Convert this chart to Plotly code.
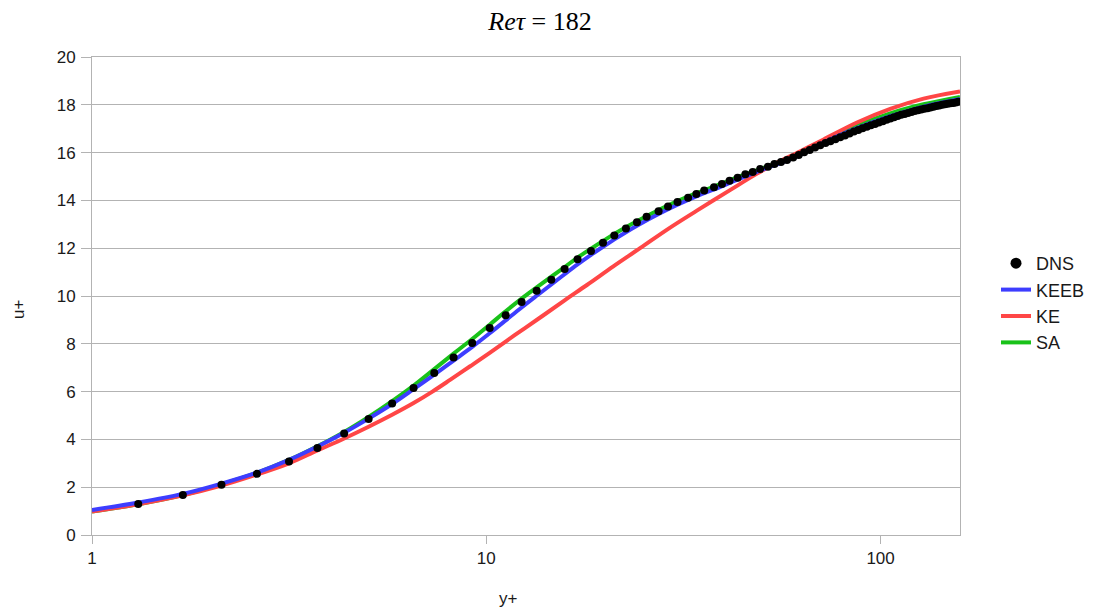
import plotly.graph_objects as go
import math

# ---------------- data ----------------
dns_yplus = [1.31, 1.70, 2.13, 2.62, 3.16, 3.73, 4.36, 5.03, 5.77, 6.54, 7.38, 8.26, 9.21,
             10.2, 11.2, 12.29, 13.42, 14.62, 15.80, 17.04, 18.43, 19.77, 21.12, 22.6, 24.1,
             25.5, 27.35, 28.9, 30.55, 32.5, 34.1, 35.7, 37.8, 39.6, 41.4, 43.4, 45.4, 47.4,
             49.5, 51.8, 53.8, 55.9, 57.9, 60.0, 62.0, 64.0, 66.1, 68.2, 70.3, 72.5, 74.6,
             76.8, 79.0, 81.2, 83.4, 85.6, 87.8, 90.0, 92.3, 94.5, 96.8, 99.0, 101.3, 103.6,
             105.9, 108.2, 110.5, 112.8, 115.1, 117.4, 119.8, 122.1, 124.4, 126.8, 129.1,
             131.5, 133.8, 136.2, 138.5, 140.9, 143.3, 145.6, 148.0, 150.4, 152.8, 155.1, 157.5]
dns_uplus = [1.30, 1.67, 2.10, 2.56, 3.08, 3.64, 4.25, 4.85, 5.50, 6.15, 6.78, 7.43, 8.03,
             8.66, 9.19, 9.75, 10.22, 10.68, 11.13, 11.54, 11.88, 12.23, 12.53, 12.82, 13.09,
             13.32, 13.55, 13.75, 13.93, 14.11, 14.27, 14.41, 14.55, 14.69, 14.82, 14.95, 15.09, 15.19,
             15.31, 15.41, 15.52, 15.61, 15.69, 15.79, 15.90, 16.01, 16.11, 16.21, 16.31, 16.40, 16.48,
             16.56, 16.64, 16.72, 16.80, 16.88, 16.95, 17.02, 17.08, 17.14, 17.20, 17.26, 17.31, 17.37,
             17.43, 17.48, 17.53, 17.58, 17.62, 17.66, 17.70, 17.74, 17.77, 17.80, 17.83,
             17.86, 17.89, 17.92, 17.95, 17.97, 18.00, 18.02, 18.04, 18.06, 18.08, 18.10, 18.13]

model_yplus = [1.0, 1.31, 1.70, 2.13, 2.62, 3.16, 3.73, 4.36, 5.03, 5.77, 6.54, 7.38, 8.26, 9.21,
               10.2, 11.2, 12.29, 13.42, 14.62, 15.8, 17.04, 18.43, 19.77, 21.12, 22.6, 24.1,
               27.35, 30.55, 34.1, 37.8, 43.4, 50.0, 55.9, 62.0, 71.7, 87.1, 105.8, 128.5, 159.0]
keeb_uplus = [1.05, 1.36, 1.72, 2.15, 2.61, 3.14, 3.70, 4.28, 4.87, 5.48, 6.10, 6.71, 7.30, 7.87,
              8.44, 8.98, 9.52, 10.01, 10.48, 10.91, 11.32, 11.72, 12.06, 12.37, 12.67, 12.94,
              13.43, 13.82, 14.17, 14.46, 14.87, 15.28, 15.57, 15.87, 16.42, 17.02, 17.52, 17.92, 18.24]
sa_uplus = [0.98, 1.29, 1.67, 2.12, 2.60, 3.14, 3.71, 4.31, 4.94, 5.60, 6.25, 6.94, 7.59, 8.20,
            8.80, 9.36, 9.89, 10.36, 10.81, 11.21, 11.61, 11.98, 12.30, 12.60, 12.88, 13.13,
            13.60, 13.97, 14.30, 14.58, 14.97, 15.34, 15.64, 15.93, 16.49, 17.13, 17.64, 18.02, 18.33]

ke_yplus = [1.0, 1.31, 1.70, 2.13, 2.52, 3.16, 3.72, 4.36, 5.03, 5.77, 6.54, 7.3, 8.11, 9.1,
            10.2, 11.8, 13.7, 15.8, 18.0, 21.0, 24.6, 29.0, 34.2, 41.6, 48.6, 54.6, 62.6, 71.7,
            87.1, 105.8, 128.5, 159.0]
ke_uplus = [0.98, 1.29, 1.66, 2.07, 2.44, 3.00, 3.53, 4.04, 4.53, 5.03, 5.52, 6.00, 6.50, 7.06,
            7.62, 8.36, 9.10, 9.82, 10.46, 11.24, 12.01, 12.82, 13.57, 14.44, 15.12, 15.58, 16.06, 16.55,
            17.26, 17.83, 18.26, 18.56]

y_ticks = [0, 2, 4, 6, 8, 10, 12, 14, 16, 18, 20]
x_ticks = [1, 10, 100]
x_ticktext = ["1", "10", "100"]

# ---------------- figure ----------------
W, H = 1102, 613
L, R, T, B = 92, 960, 57, 535
grid = "#b3b3b3"
txt = "#1a1a1a"
sans = "Liberation Sans, Arial, sans-serif"

fig = go.Figure()
fig.add_trace(go.Scatter(x=model_yplus, y=sa_uplus, mode="lines", name="SA",
                         line=dict(color="#19c219", width=4, shape="spline", smoothing=1.0),
                         legendrank=4))
fig.add_trace(go.Scatter(x=ke_yplus, y=ke_uplus, mode="lines", name="KE",
                         line=dict(color="#ff4646", width=4, shape="spline", smoothing=1.0),
                         legendrank=3))
fig.add_trace(go.Scatter(x=model_yplus, y=keeb_uplus, mode="lines", name="KEEB",
                         line=dict(color="#3d3dff", width=4, shape="spline", smoothing=1.0),
                         legendrank=2))
fig.add_trace(go.Scatter(x=dns_yplus, y=dns_uplus, mode="markers", name="DNS",
                         marker=dict(color="black", size=8, symbol="circle"),
                         showlegend=False))
# legend entry for DNS (larger symbol, as in the reference legend)
fig.add_trace(go.Scatter(x=[None], y=[None], mode="markers", name="DNS",
                         marker=dict(color="black", size=11, symbol="circle"),
                         legendrank=1))

fig.update_layout(
    width=W, height=H,
    margin=dict(l=L, r=W - R, t=T, b=H - B, pad=0),
    paper_bgcolor="white", plot_bgcolor="white",
    font=dict(family=sans, size=17, color=txt),
    title=dict(text="<i>Reτ</i> = 182", x=540 / W, xref="container", xanchor="center",
               y=1 - 21 / H, yref="container", yanchor="middle",
               font=dict(family="Liberation Serif, Times New Roman, serif", size=26, color="black")),
    showlegend=True,
    legend=dict(x=(996 - L) / (R - L), y=(B - 245) / (B - T), xanchor="left", yanchor="top",
                bgcolor="rgba(0,0,0,0)", font=dict(family=sans, size=18, color=txt),
                traceorder="normal"),
    xaxis=dict(type="log", range=[0, math.log10(159)], tickvals=x_ticks, ticktext=x_ticktext,
               showgrid=False, zeroline=False, showline=True, linecolor=grid, linewidth=1,
               mirror=True, ticks="outside", ticklen=8, tickcolor=grid, tickwidth=1,
               ticklabelstandoff=0, tickfont=dict(size=17, color=txt)),
    yaxis=dict(range=[0, 20], tickvals=y_ticks, showgrid=True, gridcolor=grid, gridwidth=1,
               zeroline=False, showline=True, linecolor=grid, linewidth=1, mirror=True,
               ticks="outside", ticklen=10, tickcolor=grid, tickwidth=1,
               ticklabelstandoff=2, tickfont=dict(size=17, color=txt)),
    annotations=[
        dict(text="u+", x=(18 - L) / (R - L), y=(B - 310) / (B - T), xref="paper", yref="paper",
             showarrow=False, textangle=-90, font=dict(family=sans, size=17, color=txt),
             xanchor="center", yanchor="middle"),
        dict(text="y+", x=(508 - L) / (R - L), y=(B - 598) / (B - T), xref="paper", yref="paper",
             showarrow=False, font=dict(family=sans, size=17, color=txt),
             xanchor="center", yanchor="middle"),
    ],
)

fig.write_html("out.html")
